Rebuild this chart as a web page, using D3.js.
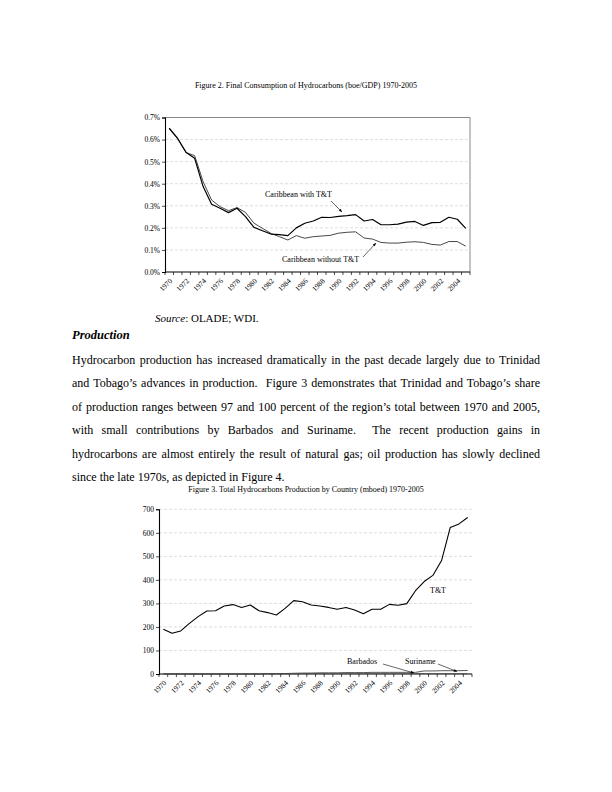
<!DOCTYPE html>
<html><head><meta charset="utf-8">
<script src="https://cdn.jsdelivr.net/npm/d3@7/dist/d3.min.js"></script>
<style>
html,body{margin:0;padding:0;background:#fff;}
svg{display:block;font-family:"Liberation Serif","Times New Roman",serif;}
</style></head>
<body>
<svg id="page" width="612" height="792"></svg>
<script>
// ---------- DATA ----------
const years = d3.range(1970, 2006);
const yearLabels = years.filter(y => y % 2 === 0 && y <= 2004);

// Figure 2: Final consumption (boe/GDP, %)
const withTT = [0.652,0.605,0.541,0.515,0.387,0.307,0.289,0.269,0.289,0.251,0.202,0.187,0.172,0.169,0.165,0.200,0.221,0.231,0.248,0.247,0.252,0.255,0.260,0.231,0.238,0.214,0.214,0.217,0.226,0.229,0.211,0.224,0.225,0.248,0.239,0.198];
const withoutTT = [0.648,0.603,0.541,0.527,0.409,0.326,0.296,0.278,0.292,0.270,0.221,0.198,0.175,0.160,0.145,0.165,0.153,0.160,0.163,0.166,0.176,0.180,0.182,0.154,0.149,0.134,0.131,0.131,0.135,0.137,0.134,0.125,0.122,0.138,0.138,0.117];
const fig2Ticks = [0,0.001,0.002,0.003,0.004,0.005,0.006,0.007];

// Figure 3: Total hydrocarbons production (mboed)
const tt = [190,173,183,215,244,268,269,289,295,283,293,269,261,251,279,312,307,293,289,283,275,283,272,256,275,275,296,292,299,354,393,419,482,623,638,665];
const barbados = [1,1,1,1,1,1,1,1,1,1,1,1,1,1,1,1,2,2,2,2,2,2,2,2,2,2,2,2,2,2,2,2,2,2,2,2];
const suriname = [0,0,0,0,0,0,0,0,0,0,0,0,1,1,2,3,4,4,5,5,5,6,6,6,7,7,7,7,7,7,13,13,14,14,14,15];
const fig3Ticks = [0,100,200,300,400,500,600,700];

const paraLines = [
 "Hydrocarbon production has increased dramatically in the past decade largely due to Trinidad",
 "and Tobago\u2019s advances in production.  Figure 3 demonstrates that Trinidad and Tobago\u2019s share",
 "of production ranges between 97 and 100 percent of the region\u2019s total between 1970 and 2005,",
 "with small contributions by Barbados and Suriname.  The recent production gains in",
 "hydrocarbons are almost entirely the result of natural gas; oil production has slowly declined",
 "since the late 1970s, as depicted in Figure 4."
];

// ---------- DRAW ----------
const svg = d3.select("#page");

function arrow(g, x1, y1, x2, y2) {
  g.append("line").attr("x1",x1).attr("y1",y1).attr("x2",x2).attr("y2",y2)
    .attr("stroke","#000").attr("stroke-width",0.6);
  const a = Math.atan2(y2-y1, x2-x1), L = 3.2, w = 1.4;
  const bx = x2 - L*Math.cos(a), by = y2 - L*Math.sin(a);
  const px = -Math.sin(a)*w, py = Math.cos(a)*w;
  g.append("path").attr("d",`M${x2},${y2}L${bx+px},${by+py}L${bx-px},${by-py}Z`).attr("fill","#000");
}

function chart(opt) {
  const g = svg.append("g");
  const x = d3.scaleBand().domain(years).range([opt.x0, opt.x1]).padding(0);
  const y = d3.scaleLinear().domain([0, opt.ymax]).range([opt.yb, opt.yt]);
  const cx = d => x(d) + x.bandwidth()/2;

  // gridlines
  g.selectAll(".grid").data(opt.ticks.filter(t => t > 0 && (opt.frame ? t < opt.ymax : true)))
    .enter().append("line")
    .attr("x1", opt.x0).attr("x2", opt.x1)
    .attr("y1", d => y(d)).attr("y2", d => y(d))
    .attr("stroke", "#c8c8c8").attr("stroke-width", 0.6).attr("stroke-dasharray", "3,2");

  if (opt.frame) {
    g.append("path").attr("d", `M${opt.x0},${y(opt.ymax)}H${opt.x1}V${opt.yb}`)
      .attr("fill","none").attr("stroke","#888").attr("stroke-width",1);
  }

  // y axis
  const ya = d3.axisLeft(y).tickValues(opt.ticks).tickFormat(opt.fmt).tickSize(3).tickPadding(2);
  const yg = g.append("g").attr("transform", `translate(${opt.x0},0)`).call(ya);
  yg.attr("font-size", 7.5).attr("font-family","Liberation Serif");
  yg.select(".domain").attr("stroke","#000").attr("stroke-width",1.1);
  yg.selectAll(".tick line").attr("stroke","#000").attr("stroke-width",0.7);
  yg.selectAll("text").attr("fill","#000");

  // x axis line + ticks at category boundaries
  g.append("line").attr("x1",opt.x0).attr("x2",opt.x1).attr("y1",opt.yb).attr("y2",opt.yb)
    .attr("stroke","#000").attr("stroke-width",1.1);
  const bounds = years.map(d => x(d)).concat([opt.x1]);
  g.selectAll(".xt").data(bounds).enter().append("line")
    .attr("x1", d=>d).attr("x2", d=>d).attr("y1", opt.yb).attr("y2", opt.yb+3)
    .attr("stroke","#000").attr("stroke-width",0.7);
  g.selectAll(".xl").data(yearLabels).enter().append("text")
    .attr("transform", d => `translate(${cx(d)+3.5},${opt.yb+9.5}) rotate(-45)`)
    .attr("text-anchor","end").attr("font-size",7.3).attr("fill","#000").text(d => d);

  const line = d3.line().x((v,i) => cx(years[i])).y(v => y(v));
  opt.series.forEach(s => {
    g.append("path").attr("d", line(s.values)).attr("fill","none")
      .attr("stroke", s.color).attr("stroke-width", s.width).attr("stroke-linejoin","round");
  });
  return g;
}

// Title Figure 2
svg.append("text").attr("x",306).attr("y",88).attr("text-anchor","middle").attr("font-size",8)
  .text("Figure 2. Final Consumption of Hydrocarbons (boe/GDP) 1970-2005");

const g2 = chart({
  x0:165, x1:470, yb:272, yt:117.5, ymax:0.007, ticks:fig2Ticks,
  fmt: d3.format(".1%"), frame:true,
  series:[{values:withoutTT.map(v=>v/100), color:"#333", width:0.9},
          {values:withTT.map(v=>v/100), color:"#000", width:1.2}]
});
g2.append("text").attr("x",265).attr("y",197).attr("font-size",8).text("Caribbean with T&T");
arrow(g2, 331, 201, 342, 212);
g2.append("text").attr("x",282).attr("y",261.5).attr("font-size",8).text("Caribbean without T&T");
arrow(g2, 363, 257, 376, 243);

// Source
const src = svg.append("text").attr("x",155).attr("y",321.5).attr("font-size",11);
src.append("tspan").attr("font-style","italic").text("Source");
src.append("tspan").text(": OLADE; WDI.");

// Heading
svg.append("text").attr("x",72).attr("y",338.5).attr("font-size",12.5)
  .attr("font-weight","bold").attr("font-style","italic").text("Production");

// Paragraph (justified)
const left = 72, right = 540, base0 = 363.5, lh = 23.5;
paraLines.forEach((t, i) => {
  const el = svg.append("text").attr("x",left).attr("y",base0 + i*lh).attr("font-size",12)
    .attr("xml:space","preserve").style("white-space","pre").text(t);
  if (i < paraLines.length - 1) {
    const w = el.node().getComputedTextLength();
    const spaces = (t.match(/ /g) || []).length;
    el.attr("word-spacing", ((right-left) - w) / spaces);
  }
});

// Title Figure 3
svg.append("text").attr("x",306).attr("y",492).attr("text-anchor","middle").attr("font-size",8)
  .text("Figure 3. Total Hydrocarbons Production by Country (mboed) 1970-2005");

const g3 = chart({
  x0:159, x1:472, yb:674, yt:509.3, ymax:700, ticks:fig3Ticks,
  fmt: d3.format("d"), frame:false,
  series:[{values:barbados, color:"#555", width:0.9},
          {values:suriname, color:"#444", width:0.9},
          {values:tt, color:"#000", width:1.1}]
});
g3.append("text").attr("x",430).attr("y",593).attr("font-size",8).text("T&T");
g3.append("text").attr("x",347).attr("y",663.5).attr("font-size",8).text("Barbados");
arrow(g3, 383, 664, 414, 673);
g3.append("text").attr("x",405).attr("y",663.5).attr("font-size",8).text("Suriname");
arrow(g3, 438, 664, 457, 671.5);
</script>
</body></html>
